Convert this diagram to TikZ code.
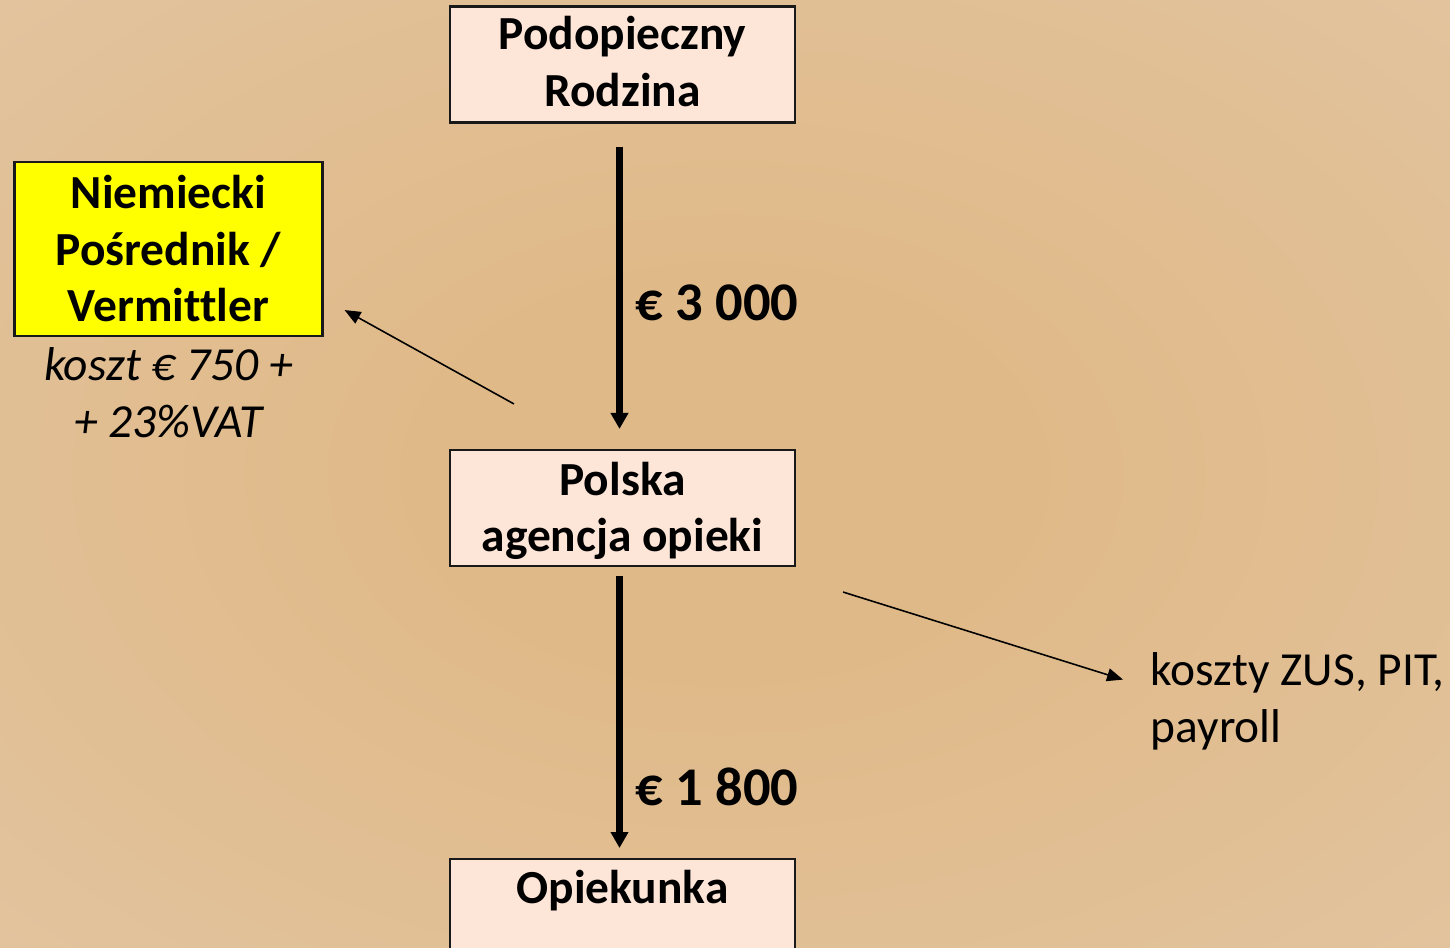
\documentclass[tikz,border=0pt]{standalone}
\usepackage{fontspec}
\setmainfont{Carlito}[Ligatures=NoCommon]
\usepackage{tikz}
\usetikzlibrary{positioning, arrows.meta}
\definecolor{piasek}{RGB}{224, 185, 136}
\definecolor{krem}{RGB}{228, 210, 188}
\definecolor{brzoskwinia}{RGB}{253, 229, 216}
\definecolor{kanarek}{RGB}{255, 255, 0}
\definecolor{ramka}{RGB}{25, 25, 25}
\pgfdeclareradialshading{tlo}{\pgfpoint{0bp}{0bp}}{color(0bp)=(piasek); color(10bp)=(piasek); color(72bp)=(krem)}
\tikzset{
    pole/.style={draw=ramka, line width=0.6pt, fill=brzoskwinia, rectangle, inner sep=0pt,
                 minimum width=3.45cm, minimum height=1.16cm, align=center, text depth=0pt,
                 font=\fontsize{13.5}{16.2}\selectfont\bfseries},
    zolte/.style={pole, fill=kanarek, minimum width=3.08cm, minimum height=1.74cm},
    kwota/.style={font=\fontsize{15.5}{20}\selectfont\bfseries, inner sep=0pt, anchor=base west},
    opis/.style={font=\fontsize{13.5}{16.2}\selectfont, inner sep=0pt, text depth=0pt},
    przeplyw/.style={-{Triangle[length=0.16cm, width=0.17cm]}, line width=1.8pt},
    cienka/.style={-{Triangle[length=0.16cm, width=0.13cm]}, line width=0.45pt},
}

\begin{document}
\begin{tikzpicture}
    \useasboundingbox (0,0) rectangle (14.5,-9.48);
    \clip (0,0) rectangle (14.5,-9.48);
    \shade [shading=tlo] (0,0) rectangle (14.5,-9.48);

    \node [pole, text height=0.84cm] (rodzina) at (6.225,-0.645) {Podopieczny\\Rodzina};
    \node [pole, text height=0.88cm] (agencja) at (6.225,-5.08) {Polska\\agencja opieki};
    \node [pole, anchor=north, text height=0pt, text depth=0.28cm] (opiekunka) at (6.225,-8.58) {Opiekunka};
    \node [zolte, text height=1.46cm] (posrednik) at (1.685,-2.49) {Niemiecki\\Pośrednik /\\Vermittler};
    \node [opis, align=center, text height=0.86cm, below=0.14cm of posrednik] (koszt)
        {\itshape koszt € 750 +\\\itshape + 23\%VAT};
    \node [opis, align=left, text height=0.87cm, anchor=south west] (koszty) at (11.5,-7.43)
        {koszty ZUS, PIT,\\payroll};

    \node [kwota] (trzy) at (6.35,-3.21) {€ 3 000};
    \node [kwota] (osiemset) at (6.35,-8.05) {€ 1 800};

    \draw [przeplyw, shorten <=0.23cm, shorten >=0.2cm] ([xshift=-0.03cm]rodzina.south) -- ([xshift=-0.03cm]agencja.north);
    \draw [przeplyw, shorten <=0.09cm, shorten >=0.1cm] ([xshift=-0.03cm]agencja.south) -- ([xshift=-0.03cm]opiekunka.north);

    \coordinate (odAgencji) at ([xshift=0.65cm, yshift=0.45cm]agencja.north west);
    \coordinate (doPosrednika) at ([xshift=0.21cm, yshift=0.27cm]posrednik.south east);
    \coordinate (zAgencji) at ([xshift=0.47cm, yshift=-0.25cm]agencja.south east);
    \coordinate (doKosztow) at ([xshift=-0.27cm, yshift=-0.25cm]koszty.north west);
    \draw [cienka] (odAgencji) -- (doPosrednika);
    \draw [cienka] (zAgencji) -- (doKosztow);
\end{tikzpicture}
\end{document}
